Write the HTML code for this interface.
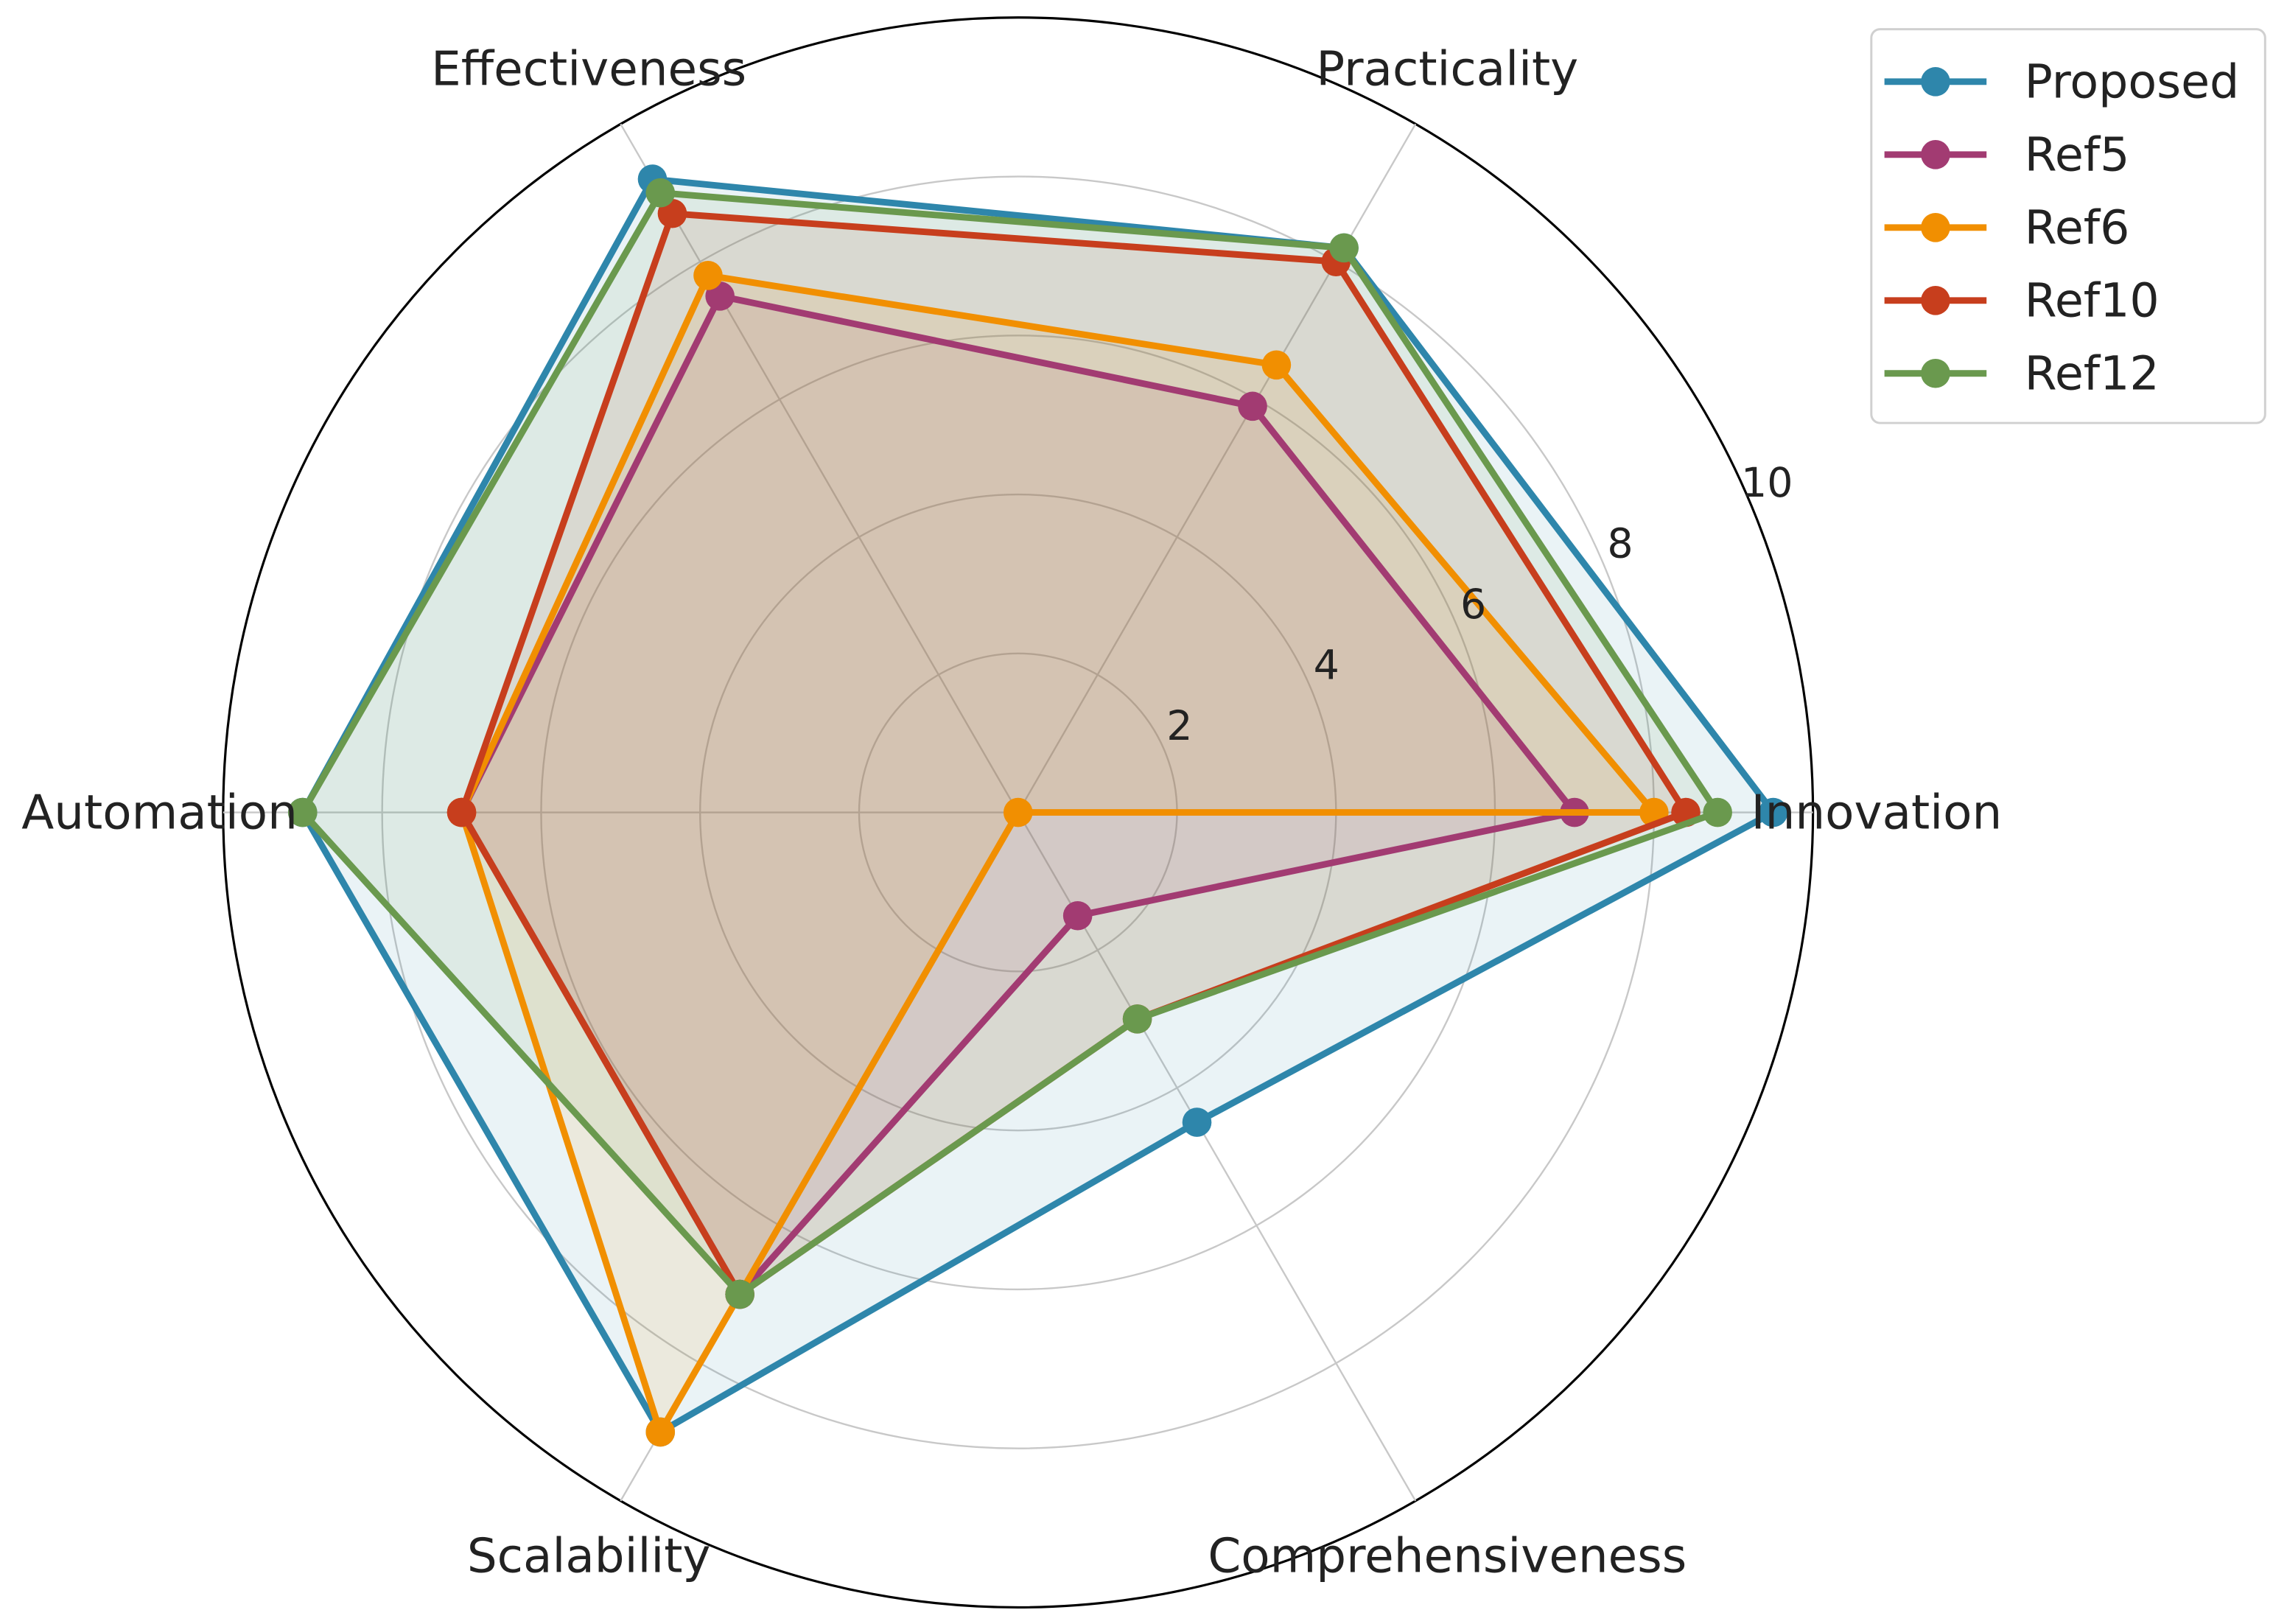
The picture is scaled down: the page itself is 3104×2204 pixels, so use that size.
<!DOCTYPE html>
<html><head><meta charset="utf-8"><style>
html,body{margin:0;padding:0;background:#fff;}
svg{display:block;font-family:"DejaVu Sans","Liberation Sans",sans-serif;}
</style></head><body>
<svg id="chart" width="3104" height="2204" viewBox="0 0 1568 1113.4" preserveAspectRatio="none" xmlns="http://www.w3.org/2000/svg">
<g id="grid"></g>
<g id="series"></g>
<g id="labels"></g>
<g id="legend"></g>
</svg>
<script>
const categories = ["Innovation","Practicality","Effectiveness","Automation","Scalability","Comprehensiveness"];
const seriesNames = ["Proposed","Ref5","Ref6","Ref10","Ref12"];
const proposed = [9.5, 8.2, 9.2, 9.0, 9.0, 4.5];
const ref5 = [7.0, 5.9, 7.5, 7.0, 7.0, 1.5];
const ref6 = [8.0, 6.5, 7.8, 7.0, 9.0, 0.0];
const ref10 = [8.4, 8.0, 8.7, 7.0, 7.0, 3.0];
const ref12 = [8.8, 8.2, 9.0, 9.0, 7.0, 3.0];
const rTicks = [2, 4, 6, 8, 10];
const colors = ["#2E86AB","#A23B72","#F18F01","#C73E1D","#6A994E"];
const allSeries = [proposed, ref5, ref6, ref10, ref12];

const NS = "http://www.w3.org/2000/svg";
const cx = 698, cy = 557, R = 545, rMax = 10;
function rad(v){ return v / rMax * R; }
function ang(i){ return i * 2 * Math.PI / categories.length; }
function pt(i, v){ const a = ang(i); return [cx + rad(v)*Math.cos(a), cy - rad(v)*Math.sin(a)]; }
function mk(tag, attrs, parent){ const e = document.createElementNS(NS, tag); for (const k in attrs) e.setAttribute(k, attrs[k]); parent.appendChild(e); return e; }

const grid = document.getElementById("grid");
rTicks.forEach((t, i) => {
  const c = mk("circle", {cx:cx, cy:cy, r:rad(t), fill:"none", stroke: t===rMax ? "#000" : "#c8c8c8", "stroke-width": t===rMax ? 1.6 : 1.2}, grid);
  
  
});
categories.forEach((c, i) => {
  const [x, y] = pt(i, rMax);
  const l = mk("line", {x1:cx, y1:cy, x2:x, y2:y, stroke:"#c8c8c8", "stroke-width":1.2}, grid);
  
  
});

const sg = document.getElementById("series");
allSeries.forEach((vals, s) => {
  const pts = vals.map((v, i) => pt(i, v));
  const d = pts.map(p => p[0].toFixed(1)+","+p[1].toFixed(1)).join(" ");
  const f = mk("polygon", {points:d, fill:colors[s], "fill-opacity":0.1, stroke:"none"}, sg);
  
  
});
allSeries.forEach((vals, s) => {
  const pts = vals.map((v, i) => pt(i, v));
  const d = pts.map(p => p[0].toFixed(1)+","+p[1].toFixed(1)).join(" ");
  const pl = mk("polygon", {points:d, fill:"none", stroke:colors[s], "stroke-width":4.5, "stroke-linejoin":"round"}, sg);
  
  
  pts.forEach(p => {
    const m = mk("circle", {cx:p[0], cy:p[1], r:10, fill:colors[s]}, sg);
    
    
  });
});

const lg = document.getElementById("labels");
categories.forEach((c, i) => {
  const [x, y] = pt(i, 10.8);
  const t = mk("text", {x:x, y:y+11, "text-anchor":"middle", "font-size":32.5, fill:"#222"}, lg);
  t.textContent = c;
  
  
});
rTicks.forEach(t => {
  const a = 22.5 * Math.PI / 180;
  const x = cx + rad(t)*Math.cos(a) + 10, y = cy - rad(t)*Math.sin(a) - 8;
  const e = mk("text", {x:x, y:y, "text-anchor":"middle", "font-size":28, fill:"#222"}, lg);
  e.textContent = String(t);
  
  
});

const leg = document.getElementById("legend");
const box = mk("rect", {x:1283, y:20, width:270, height:270, rx:6, fill:"#fff", stroke:"#d0d0d0", "stroke-width":1.5}, leg);


seriesNames.forEach((n, s) => {
  const y = 56 + s*50;
  const l = mk("line", {x1:1292, y1:y, x2:1362, y2:y, stroke:colors[s], "stroke-width":4.5}, leg);
  
  
  const m = mk("circle", {cx:1327, cy:y, r:10, fill:colors[s]}, leg);
  
  
  const t = mk("text", {x:1388, y:y+11, "font-size":32, fill:"#222"}, leg);
  t.textContent = n;
  
  
});
</script>
</body></html>
